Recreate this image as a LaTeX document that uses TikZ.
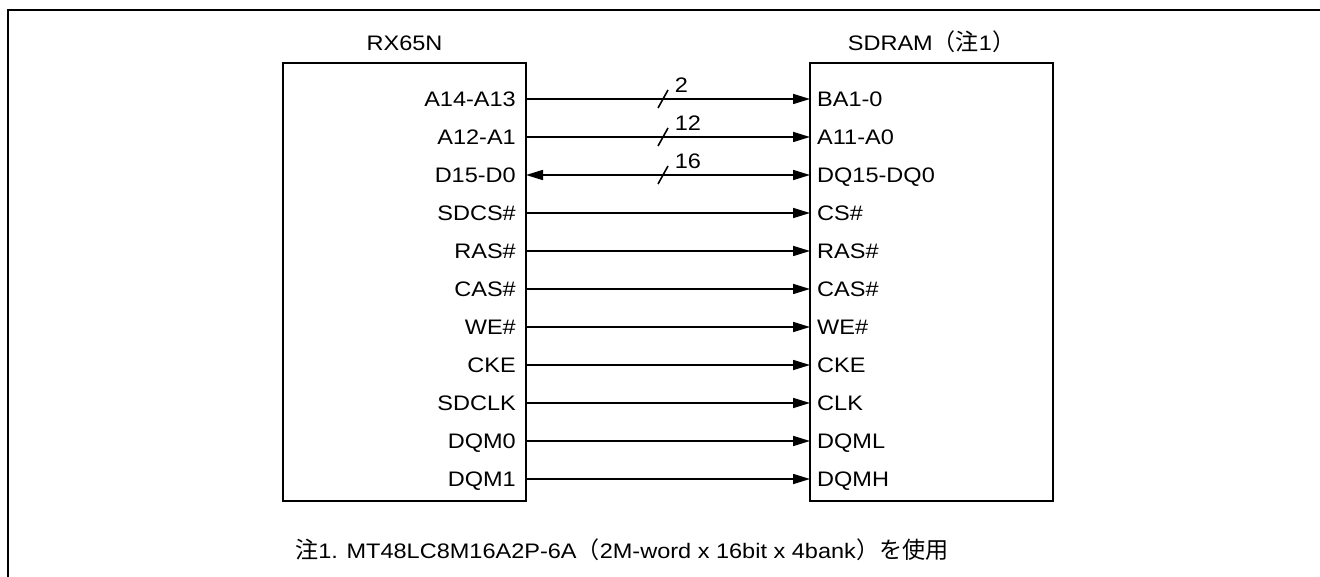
\documentclass[tikz,border=0pt]{standalone}
\usepackage{fontspec}
\setmainfont{Liberation Sans}[FakeStretch=1.12]
\newfontfamily\cjk{Noto Sans CJK JP}[Scale=1.1]
\usetikzlibrary{positioning,arrows.meta}

\begin{document}
\begin{tikzpicture}[>={Triangle[length=17pt,width=10pt]}, x=1pt, y=-1pt,
    font=\fontsize{21}{25}\selectfont,
    chip/.style={draw, line width=2pt, minimum width=243pt, minimum height=438pt, inner sep=0pt},
    sig/.style={line width=1.6pt},
    pinl/.style={anchor=base east, inner sep=0pt},
    pinr/.style={anchor=base west, inner sep=0pt}]
    \useasboundingbox (0,0) rectangle (1320,577);

    % Frame
    \draw[line width=2pt] (1320,10) -- (8,10) -- (8,577);

    % Chips
    \node[chip] (rx) at (404.5,282) {};
    \node[chip] (sd) at (931.5,282) {};
    \node[anchor=base] (rxname) at (404.5,51) {RX65N};
    \node[anchor=base] (sdname) at (931.5,51) {SDRAM{\cjk （注}1{\cjk ）}};

    % Pins
    \foreach \i/\pa/\pb in {0/A14-A13/BA1-0, 1/A12-A1/A11-A0, 2/D15-D0/DQ15-DQ0,
        3/SDCS\#/CS\#, 4/RAS\#/RAS\#, 5/CAS\#/CAS\#, 6/WE\#/WE\#, 7/CKE/CKE,
        8/SDCLK/CLK, 9/DQM0/DQML, 10/DQM1/DQMH} {
        \coordinate (l\i) at (526,99+38*\i);
        \coordinate (r\i) at (810,99+38*\i);
        \node[pinl] (pl\i) at (516,106.5+38*\i) {\pa};
        \node[pinr] (pr\i) at (817,106.5+38*\i) {\pb};
    }

    % Connections
    \foreach \i in {0,1,3,4,...,10}
        \draw[sig,->] (l\i) -- (r\i);
    \draw[sig,<->] (l2) -- (r2);

    % Bus widths
    \foreach \i/\w in {0/2, 1/12, 2/16} {
        \coordinate (b\i) at (663,99+38*\i);
        \draw[sig] ([shift={(-5,9)}]b\i) -- ([shift={(5,-9)}]b\i)
            node[anchor=base west, inner sep=0pt, xshift=6pt, yshift=-3pt] (w\i) {\w};
    }

    % Note
    \node[anchor=base west, inner sep=0pt] (note) at (295,558)
        {{\cjk 注}1. MT48LC8M16A2P-6A{\cjk （}2M-word x 16bit x 4bank{\cjk ）を使用}};
\end{tikzpicture}
\end{document}
